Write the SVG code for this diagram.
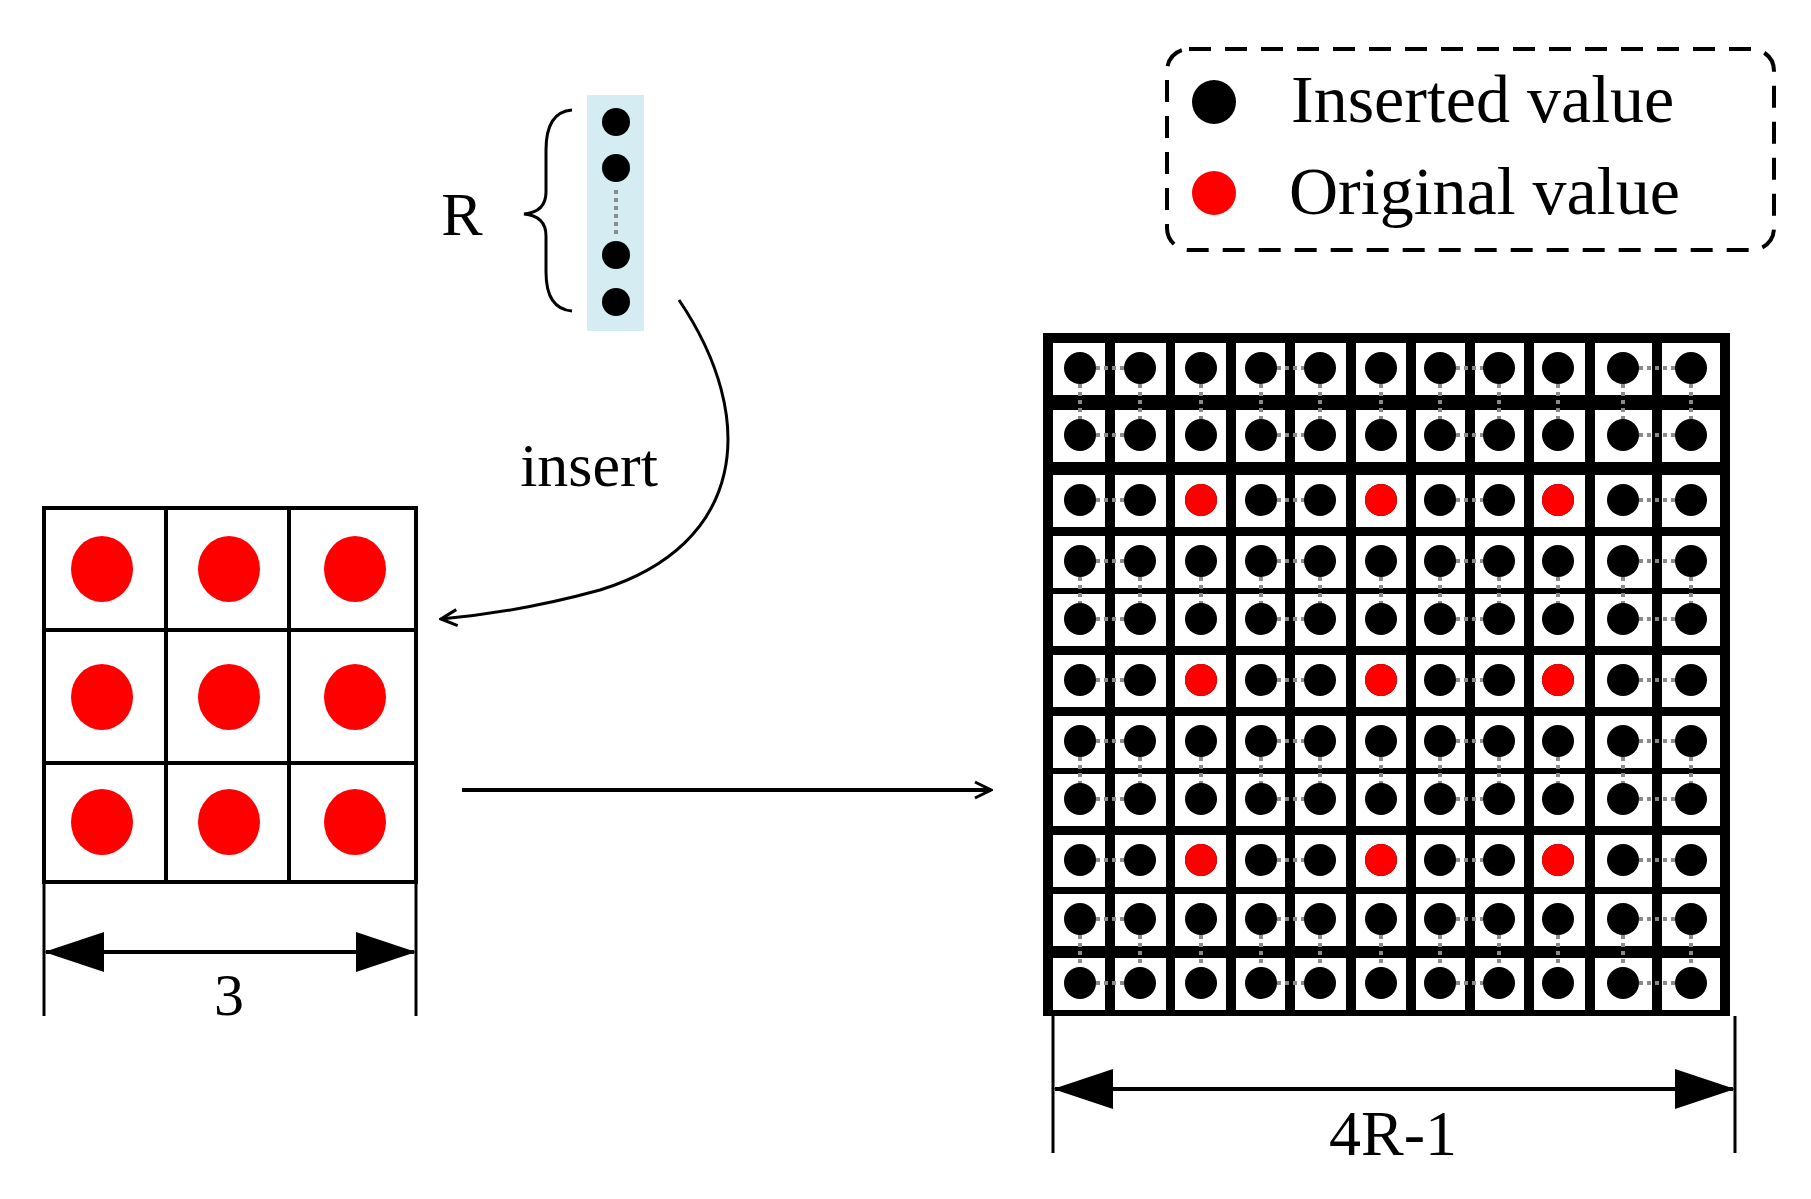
<svg xmlns="http://www.w3.org/2000/svg" width="1811" height="1199" viewBox="0 0 1811 1199">
<style>
text{font-family:"Liberation Serif","Times New Roman",serif;fill:#000}
.ln{stroke:#000;fill:none}
.k{fill:#000}.r{fill:#f00}
.g{stroke:#8a8a8a;stroke-width:4;stroke-dasharray:4 4;fill:none}
.c{fill:#fff}
</style>
<defs>
<marker id="open" viewBox="0 0 20 20" refX="18" refY="10" markerWidth="20" markerHeight="20" markerUnits="userSpaceOnUse" orient="auto"><path d="M2,2 L18,10 L2,18" fill="none" stroke="#000" stroke-width="3"/></marker>
<marker id="tri" viewBox="0 0 60 40" refX="58" refY="20" markerWidth="60" markerHeight="40" markerUnits="userSpaceOnUse" orient="auto-start-reverse"><path d="M0,0 L60,20 L0,40 Z" fill="#000"/></marker>
</defs>
<rect width="1811" height="1199" fill="#fff"/>
<g id="legend">
<rect x="1167" y="49" width="607" height="201" rx="22" fill="none" stroke="#000" stroke-width="4" stroke-dasharray="22 14"/>
<circle cx="1214" cy="102" r="22" class="k"/>
<circle cx="1214" cy="193" r="22" class="r"/>
<text x="1291" y="122" font-size="68">Inserted value</text>
<text x="1289" y="214" font-size="68">Original value</text>
</g>
<g id="vector">
<rect x="587" y="95" width="57" height="236" fill="#d4ecf2"/>
<circle cx="616" cy="122" r="14" class="k"/>
<circle cx="616" cy="168" r="14" class="k"/>
<line x1="616" y1="190" x2="616" y2="236" class="g" stroke-width="3"/>
<circle cx="616" cy="255" r="14" class="k"/>
<circle cx="616" cy="302" r="14" class="k"/>
<path d="M572,110 Q546,112 546,150 L546,192 Q546,212 524,214 Q546,216 546,236 L546,272 Q546,309 572,311" class="ln" stroke-width="3"/>
<text x="462" y="235" font-size="62" text-anchor="middle">R</text>
</g>
<g id="small-grid">
<rect x="44" y="508" width="372" height="374" class="ln" stroke-width="4"/>
<line x1="166" y1="508" x2="166" y2="882" class="ln" stroke-width="4"/>
<line x1="289" y1="508" x2="289" y2="882" class="ln" stroke-width="4"/>
<line x1="44" y1="630" x2="416" y2="630" class="ln" stroke-width="4"/>
<line x1="44" y1="763" x2="416" y2="763" class="ln" stroke-width="4"/>
<g class="r">
<ellipse cx="102" cy="569" rx="31" ry="33"/><ellipse cx="229" cy="569" rx="31" ry="33"/><ellipse cx="355" cy="569" rx="31" ry="33"/>
<ellipse cx="102" cy="697" rx="31" ry="33"/><ellipse cx="229" cy="697" rx="31" ry="33"/><ellipse cx="355" cy="697" rx="31" ry="33"/>
<ellipse cx="102" cy="822" rx="31" ry="33"/><ellipse cx="229" cy="822" rx="31" ry="33"/><ellipse cx="355" cy="822" rx="31" ry="33"/>
</g>
<line x1="44" y1="882" x2="44" y2="1016" class="ln" stroke-width="3"/>
<line x1="416" y1="882" x2="416" y2="1016" class="ln" stroke-width="3"/>
<line x1="46" y1="952" x2="414" y2="952" class="ln" stroke-width="4" marker-start="url(#tri)" marker-end="url(#tri)"/>
<text x="229" y="1015" font-size="60" text-anchor="middle">3</text>
</g>
<g id="connectors">
<path d="M679,300 C760,420 745,545 600,590 Q520,612 441,619" class="ln" stroke-width="3" marker-end="url(#open)"/>
<text x="589" y="486" font-size="62" text-anchor="middle">insert</text>
<line x1="462" y1="790" x2="991" y2="790" class="ln" stroke-width="4" marker-end="url(#open)"/>
</g>
<g id="big-grid">
<rect x="1043" y="333" width="687" height="683" fill="#000"/>
<g id="cells"></g>
</g>
<g id="big-dim">
<line x1="1053" y1="1016" x2="1053" y2="1153" class="ln" stroke-width="3"/>
<line x1="1735" y1="1016" x2="1735" y2="1153" class="ln" stroke-width="3"/>
<line x1="1055" y1="1089" x2="1733" y2="1089" class="ln" stroke-width="4" marker-start="url(#tri)" marker-end="url(#tri)"/>
<text x="1393" y="1155" font-size="64" text-anchor="middle">4R-1</text>
</g>
<g id="big-cells">
<!-- columns x: 1080,1140,1201,1261,1320,1381,1440,1499,1558,1623,1691 ; rows y: 368,435,500,561,619,680,741,799,860,919,983 -->
<g class="c">
<rect x="1053" y="343" width="52" height="52"/><rect x="1115" y="343" width="51" height="52"/><rect x="1175" y="343" width="51" height="52"/><rect x="1236" y="343" width="49" height="52"/><rect x="1295" y="343" width="51" height="52"/><rect x="1356" y="343" width="50" height="52"/><rect x="1416" y="343" width="49" height="52"/><rect x="1475" y="343" width="49" height="52"/><rect x="1534" y="343" width="51" height="52"/><rect x="1595" y="343" width="57" height="52"/><rect x="1662" y="343" width="58" height="52"/>
</g>
</g>
<use href="#big-cells" y="67"/>
<use href="#big-cells" y="132"/>
<use href="#big-cells" y="193"/>
<use href="#big-cells" y="251"/>
<use href="#big-cells" y="312"/>
<use href="#big-cells" y="373"/>
<use href="#big-cells" y="431"/>
<use href="#big-cells" y="492"/>
<use href="#big-cells" y="551"/>
<use href="#big-cells" y="615"/>
<g id="links">
<g id="hrow">
<line x1="1096" y1="368" x2="1124" y2="368" class="g"/><line x1="1277" y1="368" x2="1304" y2="368" class="g"/><line x1="1456" y1="368" x2="1483" y2="368" class="g"/><line x1="1639" y1="368" x2="1675" y2="368" class="g"/>
</g>
<use href="#hrow" y="67"/><use href="#hrow" y="132"/><use href="#hrow" y="193"/><use href="#hrow" y="251"/><use href="#hrow" y="312"/><use href="#hrow" y="373"/><use href="#hrow" y="431"/><use href="#hrow" y="492"/><use href="#hrow" y="551"/><use href="#hrow" y="615"/>
<g id="vcol">
<line x1="1080" y1="384" x2="1080" y2="419" class="g"/><line x1="1140" y1="384" x2="1140" y2="419" class="g"/><line x1="1201" y1="384" x2="1201" y2="419" class="g"/><line x1="1261" y1="384" x2="1261" y2="419" class="g"/><line x1="1320" y1="384" x2="1320" y2="419" class="g"/><line x1="1381" y1="384" x2="1381" y2="419" class="g"/><line x1="1440" y1="384" x2="1440" y2="419" class="g"/><line x1="1499" y1="384" x2="1499" y2="419" class="g"/><line x1="1558" y1="384" x2="1558" y2="419" class="g"/><line x1="1623" y1="384" x2="1623" y2="419" class="g"/><line x1="1691" y1="384" x2="1691" y2="419" class="g"/>
</g>
<use href="#vcol" y="193" transform="translate(0,0) scale(1,1)" transform-origin="0 0"/>
<use href="#vcol" y="373"/>
<use href="#vcol" y="551"/>
</g>
<g id="dots">
<g id="drow" class="k">
<circle cx="1080" cy="368" r="16"/><circle cx="1140" cy="368" r="16"/><circle cx="1201" cy="368" r="16"/><circle cx="1261" cy="368" r="16"/><circle cx="1320" cy="368" r="16"/><circle cx="1381" cy="368" r="16"/><circle cx="1440" cy="368" r="16"/><circle cx="1499" cy="368" r="16"/><circle cx="1558" cy="368" r="16"/><circle cx="1623" cy="368" r="16"/><circle cx="1691" cy="368" r="16"/>
</g>
<use href="#drow" y="67"/><use href="#drow" y="132"/><use href="#drow" y="193"/><use href="#drow" y="251"/><use href="#drow" y="312"/><use href="#drow" y="373"/><use href="#drow" y="431"/><use href="#drow" y="492"/><use href="#drow" y="551"/><use href="#drow" y="615"/>
<g class="r">
<circle cx="1201" cy="500" r="16"/><circle cx="1381" cy="500" r="16"/><circle cx="1558" cy="500" r="16"/>
<circle cx="1201" cy="680" r="16"/><circle cx="1381" cy="680" r="16"/><circle cx="1558" cy="680" r="16"/>
<circle cx="1201" cy="860" r="16"/><circle cx="1381" cy="860" r="16"/><circle cx="1558" cy="860" r="16"/>
</g>
</g>
</svg>
